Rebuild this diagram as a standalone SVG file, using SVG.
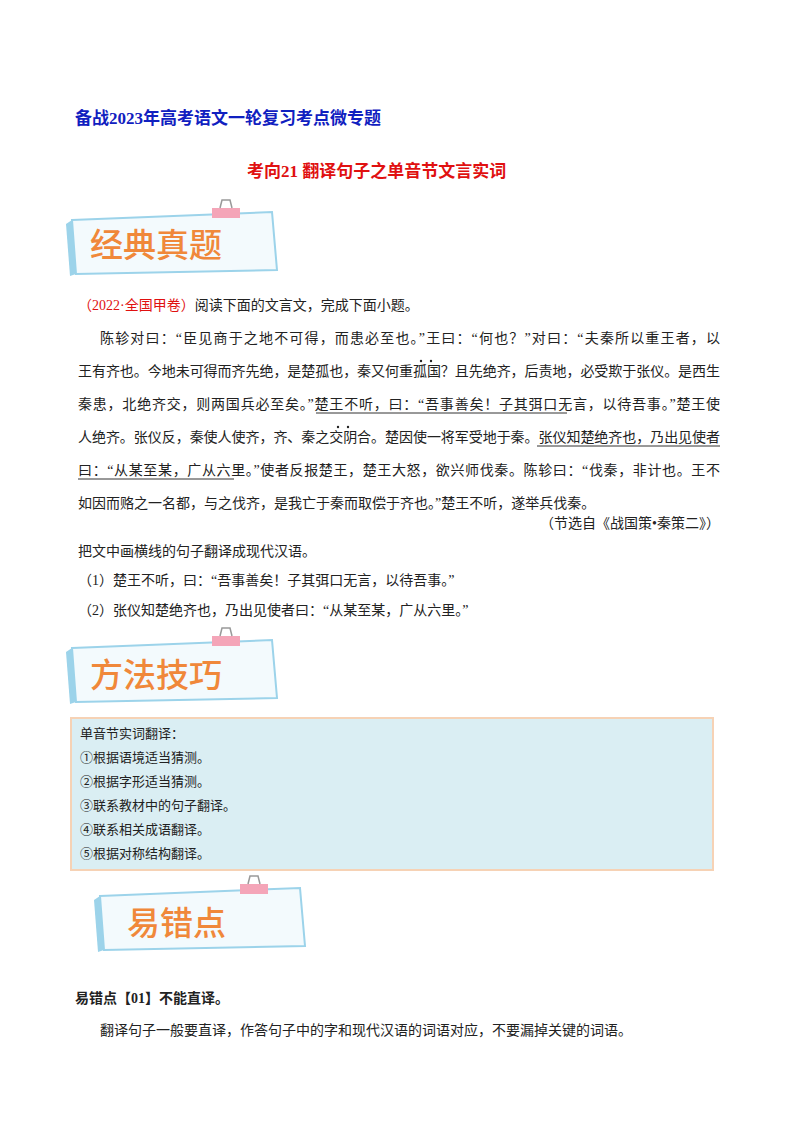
<svg xmlns="http://www.w3.org/2000/svg" width="800" height="1132" viewBox="0 0 800 1132">
<style>
text{font-family:"Liberation Serif","Noto Sans CJK SC",serif;fill:#222}
.b{font-size:14px}
.ban{font-size:33px;fill:#f0883a;font-family:"Noto Sans CJK SC",serif;font-weight:500}
.u{stroke:#333;stroke-width:1}
</style>
<rect width="800" height="1132" fill="#fff"/>
<text x="75" y="124" style="font-size:17px;font-weight:bold;fill:#1020c0">备战2023年高考语文一轮复习考点微专题</text>
<text x="247" y="177" style="font-size:17px;font-weight:bold;fill:#e01010">考向21  翻译句子之单音节文言实词</text>
<defs>
<g id="banner">
<path d="M0,8 L200,0 L205,58 L4,62 Z" fill="#f3fafd" stroke="#9cd3ea" stroke-width="2"/>
<path d="M0,8 L-6,12 L-2,64 L4,62 Z" fill="#9cd3ea"/>
<rect x="140" y="-4" width="28" height="10" fill="#f4a5b8"/>
<path d="M148,-4 L150,-12 L158,-12 L160,-4" fill="none" stroke="#999" stroke-width="1.5"/>
</g>
</defs>
<g id="banner1"><use href="#banner" x="72" y="212"/><text class="ban" x="90" y="257">经典真题</text></g>
<g id="text1" class="b">
<text x="78" y="310"><tspan fill="#e01010">（2022·全国甲卷）</tspan>阅读下面的文言文，完成下面小题。</text>
<text x="100" y="343" textLength="620">陈轸对曰：“臣见商于之地不可得，而患必至也。”王曰：“何也？”对曰：“夫秦所以重王者，以</text>
<text x="78" y="376" textLength="642">王有齐也。今地未可得而齐先绝，是楚孤也，秦又何重孤国？且先绝齐，后责地，必受欺于张仪。是西生</text>
<text x="78" y="409" textLength="642">秦患，北绝齐交，则两国兵必至矣。”楚王不听，曰：“吾事善矣！子其弭口无言，以待吾事。”楚王使</text>
<text x="78" y="442" textLength="642">人绝齐。张仪反，秦使人使齐，齐、秦之交阴合。楚因使一将军受地于秦。张仪知楚绝齐也，乃出见使者</text>
<text x="78" y="475" textLength="642">曰：“从某至某，广从六里。”使者反报楚王，楚王大怒，欲兴师伐秦。陈轸曰：“伐秦，非计也。王不</text>
<text x="78" y="508">如因而赂之一名都，与之伐齐，是我亡于秦而取偿于齐也。”楚王不听，遂举兵伐秦。</text>
<text x="720" y="528" text-anchor="end">（节选自《战国策•秦策二》）</text>
<text x="78" y="556">把文中画横线的句子翻译成现代汉语。</text>
<text x="78" y="585">（1）楚王不听，曰：“吾事善矣！子其弭口无言，以待吾事。”</text>
<text x="78" y="615">（2）张仪知楚绝齐也，乃出见使者曰：“从某至某，广从六里。”</text>
<line class="u" x1="316" y1="413" x2="567" y2="413"/>
<line class="u" x1="537" y1="446" x2="720" y2="446"/>
<line class="u" x1="78" y1="479" x2="234" y2="479"/>
<circle cx="421" cy="361" r="1.2" fill="#222"/><circle cx="431" cy="361" r="1.2" fill="#222"/>
<circle cx="338" cy="427" r="1.2" fill="#222"/><circle cx="348" cy="427" r="1.2" fill="#222"/>
</g>
<g id="banner2"><use href="#banner" x="72" y="640"/><text class="ban" x="90" y="687">方法技巧</text></g>
<g id="box">
<rect x="71" y="718" width="642" height="152" fill="#daeef3" stroke="#f6d2b5" stroke-width="2"/>
<g class="b" style="font-size:13px">
<text x="80" y="738">单音节实词翻译：</text>
<text x="80" y="762">①根据语境适当猜测。</text>
<text x="80" y="786">②根据字形适当猜测。</text>
<text x="80" y="810">③联系教材中的句子翻译。</text>
<text x="80" y="834">④联系相关成语翻译。</text>
<text x="80" y="858">⑤根据对称结构翻译。</text>
</g>
</g>
<g id="banner3"><use href="#banner" x="100" y="888"/><text class="ban" x="127" y="935">易错点</text></g>
<text x="75" y="1003" style="font-size:14px;font-weight:bold">易错点【01】不能直译。</text>
<text x="100" y="1035" class="b">翻译句子一般要直译，作答句子中的字和现代汉语的词语对应，不要漏掉关键的词语。</text>
</svg>
